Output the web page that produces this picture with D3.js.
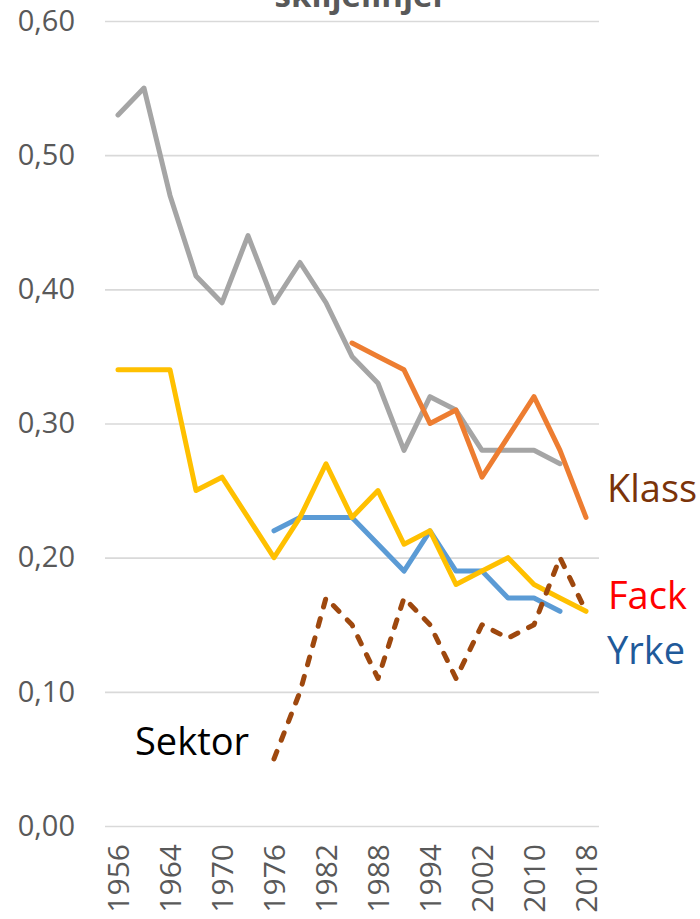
<!DOCTYPE html>
<html>
<head>
<meta charset="utf-8">
<script src="https://cdn.jsdelivr.net/npm/d3@7"></script>
<style>
  body { margin: 0; background: #fff; }
  svg { display: block; font-family: 'Open Sans', sans-serif; }
</style>
</head>
<body>
<svg width="700" height="919"></svg>
<script>
// election years (categories)
const years = [1956, 1960, 1964, 1968, 1970, 1973, 1976, 1979, 1982, 1985,
  1988, 1991, 1994, 1998, 2002, 2006, 2010, 2014, 2018];
const yearLabels = [1956, 1964, 1970, 1976, 1982, 1988, 1994, 2002, 2010, 2018];
const yTicks = [0, 0.1, 0.2, 0.3, 0.4, 0.5, 0.6];

// series values (null = no value)
const gray = [0.53, 0.55, 0.47, 0.41, 0.39, 0.44, 0.39, 0.42, 0.39, 0.35,
  0.33, 0.28, 0.32, 0.31, 0.28, 0.28, 0.28, 0.27, null];
const orange = [null, null, null, null, null, null, null, null, null, 0.36,
  0.35, 0.34, 0.30, 0.31, 0.26, 0.29, 0.32, 0.28, 0.23];
const blue = [null, null, null, null, null, null, 0.22, 0.23, 0.23, 0.23,
  0.21, 0.19, 0.22, 0.19, 0.19, 0.17, 0.17, 0.16, null];
const yellow = [0.34, 0.34, 0.34, 0.25, 0.26, 0.23, 0.20, 0.23, 0.27, 0.23,
  0.25, 0.21, 0.22, 0.18, 0.19, 0.20, 0.18, 0.17, 0.16];
const sektor = [null, null, null, null, null, null, 0.05, 0.10, 0.17, 0.15,
  0.11, 0.17, 0.15, 0.11, 0.15, 0.14, 0.15, 0.20, 0.16];

const plotLeft = 105, plotRight = 599, plotTop = 21, plotBottom = 826;

const svg = d3.select('svg');
const sv = d3.formatLocale({ decimal: ',', thousands: ' ', grouping: [3], currency: ['', ' kr'] });

const x = d3.scaleBand().domain(years).range([plotLeft, plotRight]).padding(0);
const y = d3.scaleLinear().domain([0, 0.6]).range([plotBottom, plotTop]);

// title (only its bottom edge is in frame, as in the source image)
svg.append('text')
  .attr('x', 361).attr('y', 7)
  .attr('text-anchor', 'middle')
  .style('font-weight', 'bold')
  .style('font-size', '33px')
  .style('fill', '#595959')
  .text('skiljelinjer');

// y axis + grid
const yAxis = d3.axisLeft(y)
  .tickValues(yTicks)
  .tickSizeInner(-(plotRight - plotLeft))
  .tickSizeOuter(0)
  .tickPadding(30)
  .tickFormat(sv.format('.2f'));
const yg = svg.append('g').attr('transform', `translate(${plotLeft},0)`).call(yAxis);
yg.select('.domain').remove();
yg.selectAll('.tick line').style('stroke', '#d9d9d9').style('stroke-width', 1.6);
yg.selectAll('.tick text')
  .style('font-family', "'Open Sans', sans-serif")
  .style('font-size', '29px')
  .style('fill', '#595959');

// x axis
const xAxis = d3.axisBottom(x).tickValues(yearLabels).tickSize(0).tickPadding(0);
const xg = svg.append('g').attr('transform', `translate(0,${plotBottom})`).call(xAxis);
xg.select('.domain').remove();
xg.selectAll('.tick text')
  .attr('transform', 'rotate(-90)')
  .attr('x', -18).attr('y', 0).attr('dy', '0.36em')
  .style('text-anchor', 'end')
  .style('font-family', "'Open Sans', sans-serif")
  .style('font-size', '30px')
  .style('fill', '#595959');

const cx = (i) => x(years[i]) + x.bandwidth() / 2;
const line = d3.line()
  .defined((d) => d != null)
  .x((d, i) => cx(i))
  .y((d) => y(d));

const series = [
  { values: gray, color: '#a5a5a5', dash: null },
  { values: orange, color: '#ed7d31', dash: null },
  { values: blue, color: '#5b9bd5', dash: null },
  { values: yellow, color: '#ffc000', dash: null },
  { values: sektor, color: '#9e480e', dash: '8,12' },
];

svg.append('g').selectAll('path')
  .data(series)
  .enter()
  .append('path')
  .attr('d', (d) => line(d.values))
  .attr('fill', 'none')
  .attr('stroke', (d) => d.color)
  .attr('stroke-width', 5)
  .attr('stroke-linejoin', 'round')
  .attr('stroke-linecap', 'round')
  .attr('stroke-dasharray', (d) => d.dash);

// series labels
const labels = [
  { text: 'Klass', x: 607, y: 502, color: '#7a3309' },
  { text: 'Fack', x: 608, y: 609, color: '#ff0000' },
  { text: 'Yrke', x: 607, y: 664, color: '#1f5a9a' },
  { text: 'Sektor', x: 135, y: 755, color: '#000000' },
];
svg.append('g').selectAll('text')
  .data(labels)
  .enter()
  .append('text')
  .attr('x', (d) => d.x)
  .attr('y', (d) => d.y)
  .style('font-size', '38px')
  .style('fill', (d) => d.color)
  .text((d) => d.text);
</script>
</body>
</html>
